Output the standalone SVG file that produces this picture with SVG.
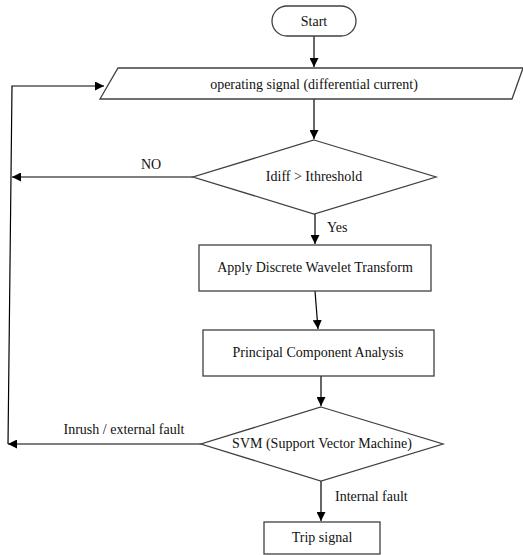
<svg xmlns="http://www.w3.org/2000/svg" width="523" height="555" viewBox="0 0 523 555" font-family="'Liberation Serif', 'Times New Roman', 'DejaVu Serif', serif">
<style>
.s{fill:#fff;stroke:#404040;stroke-width:1.3}
.c{fill:none;stroke:#000;stroke-width:1.2}
text{font-family:'Liberation Serif','Times New Roman','DejaVu Serif',serif;font-size:14px;fill:#111}
.m{text-anchor:middle}
</style>
<defs>
<marker id="ah" viewBox="0 0 10 10" refX="10" refY="5" markerWidth="9" markerHeight="9" markerUnits="userSpaceOnUse" orient="auto">
<path d="M0,0 L10,5 L0,10 z" fill="#000"/>
</marker>
</defs>
<rect width="523" height="555" fill="#fff"/>
<g id="connectors">
<line class="c" x1="314" y1="36" x2="314" y2="67" marker-end="url(#ah)"/>
<line class="c" x1="314" y1="99" x2="314" y2="139" marker-end="url(#ah)"/>
<line class="c" x1="193" y1="177" x2="12" y2="177" marker-end="url(#ah)"/>
<line class="c" x1="315" y1="214" x2="315" y2="244" marker-end="url(#ah)"/>
<line class="c" x1="315" y1="291" x2="318" y2="329" marker-end="url(#ah)"/>
<line class="c" x1="321" y1="376" x2="321" y2="406" marker-end="url(#ah)"/>
<line class="c" x1="201" y1="444" x2="8" y2="444" marker-end="url(#ah)"/>
<line class="c" x1="321" y1="481" x2="321" y2="521" marker-end="url(#ah)"/>
<polyline class="c" points="8,444 12,86 104,86" marker-end="url(#ah)"/>
<text x="151" y="169" class="m">NO</text>
<text x="327" y="232">Yes</text>
<text x="124" y="434" class="m">Inrush / external fault</text>
<text x="335" y="501">Internal fault</text>
</g>
<g id="start">
<rect class="s" x="272" y="6" width="84" height="30" rx="15"/>
<text x="314" y="26" class="m">Start</text>
</g>
<g id="input">
<polygon class="s" points="118,68 523,68 512,99 100,99"/>
<text x="314" y="89" class="m">operating signal (differential current)</text>
</g>
<g id="threshold">
<polygon class="s" points="314,140 436,177 314,214 193,177"/>
<text x="314" y="181" class="m">Idiff &gt; Ithreshold</text>
</g>
<g id="dwt">
<rect class="s" x="199" y="245" width="232" height="46"/>
<text x="315" y="272" class="m">Apply Discrete Wavelet Transform</text>
</g>
<g id="pca">
<rect class="s" x="203" y="330" width="231" height="46"/>
<text x="318" y="357" class="m">Principal Component Analysis</text>
</g>
<g id="svm">
<polygon class="s" points="321,407 443,444 321,481 201,444"/>
<text x="322" y="448" class="m">SVM (Support Vector Machine)</text>
</g>
<g id="trip">
<rect class="s" x="264" y="522" width="116" height="32"/>
<text x="322" y="542" class="m">Trip signal</text>
</g>
</svg>
